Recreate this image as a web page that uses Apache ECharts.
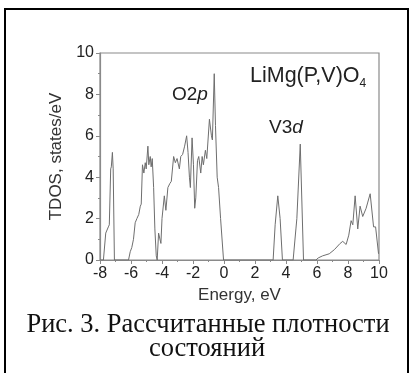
<!DOCTYPE html>
<html><head><meta charset="utf-8">
<script src="https://cdn.jsdelivr.net/npm/echarts@6/dist/echarts.min.js"></script>
<style>html,body{margin:0;padding:0;background:#fff}#c{width:410px;height:373px}</style>
</head><body><div id="c"></div>
<script>
var energy = [-8, -7.78, -7.63, -7.46, -7.4, -7.31, -7.27, -7.2, -7.15, -7.07,
  -6.16, -6.05, -5.95, -5.84, -5.73, -5.62, -5.5, -5.4, -5.34, -5.26, -5.17, -5.08, -5.02, -4.91, -4.85, -4.76, -4.7, -4.63, -4.54, -4.46, -4.37, -4.31,
  -4.22, -4.07, -4.0, -3.85, -3.75, -3.62, -3.49, -3.4, -3.25, -3.14, -3.03, -2.88, -2.79, -2.67, -2.54, -2.41, -2.32, -2.23, -2.17, -2.06, -1.97, -1.89, -1.82, -1.71, -1.63, -1.5, -1.41, -1.33, -1.2, -1.11, -0.94, -0.81, -0.75, -0.63, -0.55, -0.44, -0.35, -0.22, -0.03,
  3.17, 3.3, 3.47, 3.62, 3.77,
  4.46, 4.64, 4.7, 4.92, 5.13,
  5.93, 6.08, 6.36, 6.79, 7.12, 7.49, 7.66, 7.88, 8.05, 8.2, 8.31, 8.46, 8.63, 8.78, 8.95, 9.17, 9.28, 9.43, 9.65, 9.78, 9.97];
var tdos = [0, 0, 1.3, 1.6, 1.7, 4.4, 4.5, 5.2, 4.4, 0,
  0, 0.4, 0.6, 1.0, 1.8, 2.0, 2.2, 2.6, 2.7, 4.6, 4.2, 4.7, 4.4, 5.5, 4.6, 5.0, 4.5, 4.9, 3.5, 1.5, 0.2, 0,
  1.3, 0.8, 2.0, 3.1, 2.4, 3.5, 3.7, 3.8, 5.0, 4.7, 4.9, 4.4, 5.0, 5.1, 5.5, 6.0, 5.2, 4.0, 3.5, 5.9, 4.6, 2.5, 3.0, 4.8, 5.0, 4.2, 5.0, 4.6, 5.3, 4.9, 6.8, 6.0, 5.8, 9.0, 6.5, 4.0, 3.5, 2.0, 0,
  0, 1.7, 3.1, 2.0, 0,
  0, 1.5, 2.0, 5.6, 0,
  0, 0.1, 0.2, 0.3, 0.5, 0.8, 0.9, 0.75, 1.2, 1.9, 1.7, 3.1, 1.5, 2.6, 2.1, 2.5, 2.8, 3.2, 1.6, 1.6, 0.3];
var xTicks = {min: -8, max: 10, step: 2};
var yTicks = {min: 0, max: 10, step: 2};
var xTitle = 'Energy, eV';
var yTitle = 'TDOS, states/eV';
var caption1 = 'Рис. 3. Рассчитанные плотности';
var caption2 = 'состояний';

var pts = energy.map(function(e, i){ return [e, tdos[i]]; });
var chart = echarts.init(document.getElementById('c'));
var axisCol = '#8a8a8a';
var sans = 'Liberation Sans, Arial, sans-serif';
var serif = 'Liberation Serif, Times New Roman, serif';
chart.setOption({
  animation: false,
  grid: {left: 100, right: 31, top: 53, bottom: 113, show: true, borderColor: axisCol, borderWidth: 1.2},
  xAxis: {
    type: 'value', min: xTicks.min, max: xTicks.max, interval: xTicks.step,
    name: xTitle, nameLocation: 'middle', nameGap: 26,
    nameTextStyle: {fontFamily: sans, fontSize: 17, color: '#333'},
    axisLine: {onZero: false, lineStyle: {color: axisCol, width: 1.2}},
    axisTick: {show: true, length: 4, lineStyle: {color: axisCol}},
    minorTick: {show: true, splitNumber: 2, length: 2, lineStyle: {color: axisCol}},
    splitLine: {show: false},
    axisLabel: {fontFamily: sans, fontSize: 16, color: '#222', margin: 6}
  },
  yAxis: {
    type: 'value', min: yTicks.min, max: yTicks.max, interval: yTicks.step,
    name: yTitle, nameLocation: 'middle', nameGap: 34,
    nameTextStyle: {fontFamily: sans, fontSize: 17, color: '#333'},
    axisLine: {show: true, onZero: false, lineStyle: {color: axisCol, width: 1.2}},
    axisTick: {show: true, length: 4, lineStyle: {color: axisCol}},
    minorTick: {show: true, splitNumber: 2, length: 2, lineStyle: {color: axisCol}},
    splitLine: {show: false},
    axisLabel: {fontFamily: sans, fontSize: 16, color: '#222', margin: 6}
  },
  series: [{
    type: 'line', data: pts, showSymbol: false, symbol: 'none',
    lineStyle: {color: '#6e6e6e', width: 1}
  }],
  graphic: [
    {type: 'rect', shape: {x: 5, y: 9, width: 403, height: 400}, style: {fill: 'none', stroke: '#000', lineWidth: 2}},
    {type: 'text', left: 250, top: 65, style: {
      text: '{a|LiMg(P,V)O}{s|4}',
      rich: {a: {fontFamily: sans, fontSize: 21.5, fill: '#222'}, s: {fontFamily: sans, fontSize: 12, fill: '#222', padding: [15, 0, 0, 0]}}
    }},
    {type: 'text', left: 172, top: 85, style: {
      text: '{a|O2}{i|p}',
      rich: {a: {fontFamily: sans, fontSize: 19, fill: '#222'}, i: {fontFamily: sans, fontSize: 19, fontStyle: 'italic', fill: '#222'}}
    }},
    {type: 'text', left: 269, top: 118, style: {
      text: '{a|V3}{i|d}',
      rich: {a: {fontFamily: sans, fontSize: 19, fill: '#222'}, i: {fontFamily: sans, fontSize: 19, fontStyle: 'italic', fill: '#222'}}
    }},
    {type: 'text', x: 208, y: 325, style: {text: caption1, fontFamily: serif, fontSize: 26.5, fill: '#111', textAlign: 'center', textVerticalAlign: 'middle'}},
    {type: 'text', x: 207, y: 349, style: {text: caption2, fontFamily: serif, fontSize: 26.5, fill: '#111', textAlign: 'center', textVerticalAlign: 'middle'}}
  ]
});
</script></body></html>
